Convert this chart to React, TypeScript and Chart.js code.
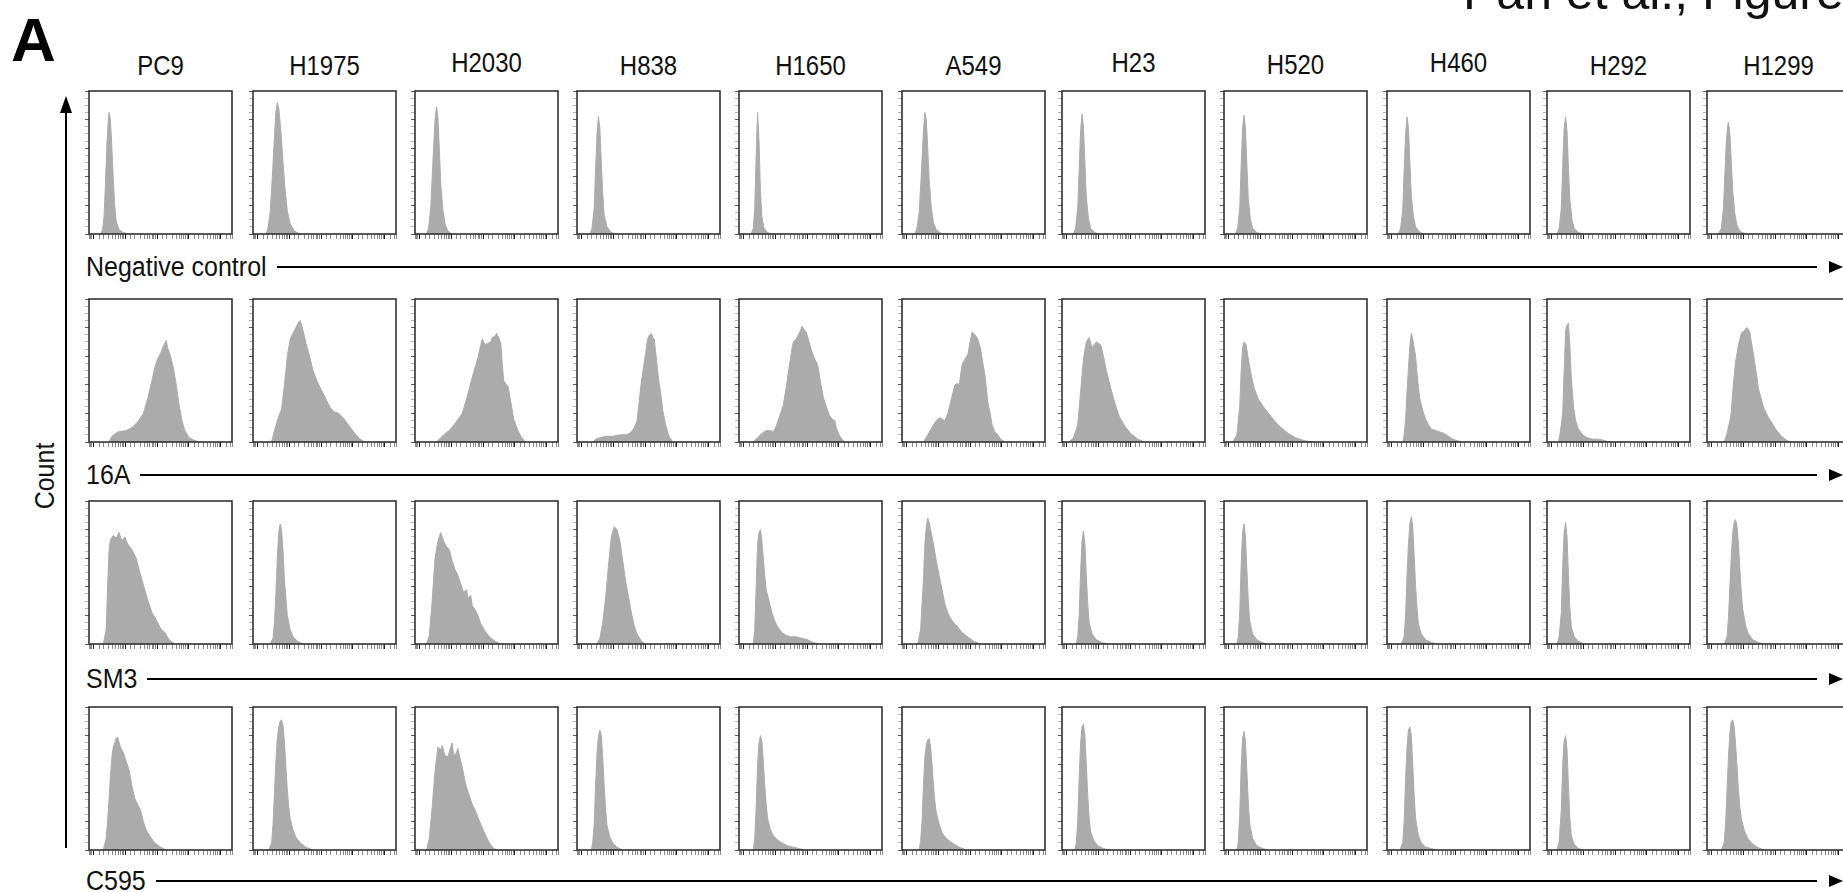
import React, { useEffect, useRef } from "react";
import { Chart, registerables } from "chart.js";

Chart.register(...registerables);

type Pt = [number, number];

const cellLines = ["PC9", "H1975", "H2030", "H838", "H1650", "A549", "H23", "H520", "H460", "H292", "H1299"];
const antibodies = ["Negative control", "16A", "SM3", "C595"];

// x: position along the fluorescence axis (0-100), y: normalized count (0-100 of panel height)
const negativeControl: Pt[][] = [
  [[8,0],[9.5,3],[10.5,12],[11.5,35],[12.5,62],[13.5,80],[14,85],[15,80],[16,60],[17,38],[18,20],[19,9],[21,3],[24,1],[28,0]],
  [[9,0],[10.5,4],[12,15],[13.5,40],[15,68],[16,85],[17,92],[18,88],[19.5,72],[21,50],[22.5,30],[24,16],[26,7],[29,2],[33,0]],
  [[8,0],[9.5,4],[11,18],[12.5,50],[14,80],[15,89],[16,82],[17,60],[18,35],[19.5,17],[21,7],[23,2],[26,0]],
  [[9,0],[10.5,4],[12,18],[13,45],[14,70],[15,82],[16,74],[17,50],[18,28],[19,13],[21,5],[24,1],[27,0]],
  [[8.5,0],[10,4],[11,18],[12,55],[13,85],[14,65],[15,30],[16,12],[17.5,4],[20,1],[23,0]],
  [[9,0],[10.5,4],[12,15],[13.5,42],[15,72],[16,85],[17,80],[18,60],[19,38],[20.5,18],[22,8],[24,3],[28,0]],
  [[8,0],[9.5,4],[11,18],[12,45],[13,72],[14,84],[15,75],[16,50],[17,26],[18.5,11],[20,4],[23,1],[26,0]],
  [[8,0],[9.5,4],[11,18],[12,48],[13,74],[14,83],[15,74],[16,48],[17,25],[18.5,10],[20,4],[23,1],[26,0]],
  [[8,0],[9.5,4],[11,17],[12,45],[13,70],[14,82],[15,74],[16,50],[17,27],[18.5,12],[20,5],[23,1],[26,0]],
  [[7,0],[8.5,4],[10,18],[11,48],[12,74],[13,82],[14,72],[15,46],[16,24],[17.5,10],[19,4],[22,1],[25,0]],
  [[8,0],[10,4],[11.5,18],[12.5,42],[13.5,64],[14.5,76],[15,78],[16,70],[17,50],[18,30],[19.5,14],[21,6],[23,2],[27,0]],
];

const ab16A: Pt[][] = [
  [[14,0],[16,4],[20,7],[26,8],[30,10],[34,14],[38,20],[41,30],[44,43],[46,52],[48,58],[50,62],[52,67],[54,71],[55,66],[57,60],[59,52],[61,40],[63,26],[65,15],[67,8],[70,3],[74,1],[78,0]],
  [[13,0],[15,8],[18,18],[20,23],[22,40],[24,60],[26,72],[28,76],[30,80],[32,84],[33,85],[35,78],[37,69],[39,62],[42,50],[45,42],[48,36],[51,30],[54,24],[57,21],[60,20],[63,17],[66,13],[69,9],[72,5],[75,2],[78,0]],
  [[15,0],[18,3],[21,6],[24,8],[28,13],[33,20],[36,30],[40,45],[42,52],[44,59],[46,68],[47,72],[49,68],[51,69],[53,70],[54,73],[56,74],[57,76],[59,72],[60,69],[61,55],[62,43],[64,40],[65,39],[67,28],[69,16],[72,8],[74,4],[77,0]],
  [[11,0],[13,2],[16,3],[20,4],[25,4],[30,5],[35,5],[38,7],[40,10],[42,15],[43,24],[44,33],[45,42],[46,49],[48,62],[49,70],[50,74],[52,76],[53,73],[54,72],[55,63],[56,54],[57,44],[59,31],[60,22],[62,12],[64,5],[65,3],[67,0]],
  [[10,0],[13,3],[16,6],[19,8],[22,8],[24,7],[26,11],[28,17],[31,26],[33,38],[35,52],[37,65],[38,70],[40,72],[41,74],[43,78],[44,81],[46,78],[47,77],[49,70],[51,63],[53,58],[55,54],[57,42],[59,31],[61,25],[63,19],[65,16],[67,15],[68,10],[70,5],[72,2],[74,0]],
  [[15,0],[18,5],[22,12],[24,15],[26,17],[28,16],[30,15],[32,20],[33,24],[35,32],[37,40],[39,41],[40,40],[42,54],[44,58],[46,61],[48,72],[49,77],[51,75],[53,72],[55,65],[56,58],[58,47],[60,28],[62,18],[63,12],[65,7],[67,5],[69,2],[72,0]],
  [[5,0],[8,3],[11,12],[13,35],[15,58],[17,70],[19,73],[21,66],[24,70],[27,68],[29,60],[31,50],[34,38],[37,27],[40,18],[44,11],[48,6],[53,2],[58,0]],
  [[6,0],[9,5],[11,25],[12,50],[13,66],[14,70],[15.5,68],[17,58],[19,47],[21,38],[24,30],[28,24],[32,19],[36,14],[40,10],[45,6],[50,3],[56,1],[62,0]],
  [[11,0],[12,5],[13,16],[14,35],[15,52],[16,67],[17,76],[18,72],[19,66],[20,60],[21,48],[22,38],[23,30],[25,22],[27,16],[29,12],[31,9],[34,8],[37,7],[40,6],[43,4],[46,2],[49,1],[52,0]],
  [[8,0],[9,5],[10,12],[11,21],[12,50],[13,78],[14,82],[15,83],[16,67],[17,45],[18.5,25],[20,15],[22,9],[25,5],[28,3],[32,2],[36,2],[40,1],[44,0]],
  [[12,0],[14,6],[16,15],[17,21],[18,35],[19,46],[20,56],[22,68],[24,76],[26,78],[28,80],[30,77],[31,70],[33,58],[35,45],[36,37],[38,30],[40,23],[43,17],[45,14],[48,9],[52,4],[56,1],[59,0]],
];

const abSM3: Pt[][] = [
  [[10,0],[12,10],[13,40],[14,65],[15,73],[17,76],[19,74],[21,78],[23,72],[25,75],[27,70],[30,66],[33,60],[35,52],[37,45],[39,38],[41,31],[44,22],[47,17],[50,11],[53,8],[56,3],[60,0]],
  [[12,0],[14,4],[15,15],[16,35],[17,60],[18,78],[19,84],[20,80],[21,65],[22,45],[23,32],[24,20],[26,10],[28,5],[31,2],[35,0]],
  [[8,0],[10,6],[12,30],[14,60],[16,72],[18,78],[20,72],[22,68],[24,66],[26,58],[28,52],[30,48],[32,42],[34,36],[36,38],[37,32],[39,34],[40,27],[42,24],[44,20],[46,14],[49,9],[52,5],[56,2],[60,0]],
  [[14,0],[16,4],[18,15],[20,32],[22,55],[24,75],[26,82],[28,80],[30,72],[32,58],[34,44],[36,33],[38,22],[40,13],[42,7],[45,2],[48,0]],
  [[10,0],[11,10],[12,40],[13,70],[14,78],[15,80],[16,72],[17,60],[18,48],[19,38],[21,30],[23,22],[25,16],[27,12],[30,8],[33,6],[36,5],[40,5],[44,4],[48,3],[52,1],[56,0]],
  [[11,0],[13,10],[15,45],[16,70],[17,82],[18,88],[19,85],[20,80],[22,70],[24,58],[26,48],[28,38],[30,28],[32,22],[34,18],[36,15],[39,12],[42,8],[46,5],[50,2],[55,0]],
  [[10,0],[11,5],[12,20],[13,50],[14,72],[15,79],[16,70],[17,48],[18,28],[19,15],[21,7],[24,3],[28,1],[32,0]],
  [[9,0],[10,5],[11,22],[12,55],[13,78],[14,84],[15,75],[16,52],[17,30],[18,16],[20,7],[23,3],[27,1],[30,0]],
  [[10,0],[12,5],[13,20],[14,48],[15,70],[16,84],[17,89],[18,82],[19,62],[20,40],[21,25],[22,14],[24,7],[27,3],[31,1],[35,0]],
  [[7,0],[8.5,5],[10,22],[11,55],[12,78],[13,85],[14,75],[15,48],[16,25],[17,12],[19,5],[22,2],[26,0]],
  [[12,0],[14,5],[15,18],[16,40],[17,62],[18,78],[19,85],[20,87],[21,82],[22,70],[23,52],[24,36],[25,24],[27,13],[29,7],[32,3],[36,1],[40,0]],
];

const abC595: Pt[][] = [
  [[10,0],[12,8],[13,20],[14,35],[15,52],[16,65],[17,72],[19,78],[20,79],[22,72],[24,68],[26,62],[28,56],[30,45],[32,36],[34,32],[36,28],[38,20],[40,14],[43,9],[46,5],[50,2],[54,0]],
  [[11,0],[13,5],[14,18],[15,40],[16,62],[17,78],[18,86],[19,90],[20,91],[21,87],[22,75],[23,58],[24,42],[25,30],[26,22],[28,14],[30,9],[33,5],[37,2],[42,0]],
  [[8,0],[10,8],[12,30],[14,55],[16,72],[18,70],[19,73],[21,66],[23,65],[25,72],[26,75],[27,66],[29,68],[30,71],[32,62],[33,58],[35,48],[36,44],[38,38],[40,32],[42,28],[44,23],[46,18],[49,11],[52,5],[55,1],[58,0]],
  [[10,0],[11,5],[12,18],[13,45],[14,68],[15,80],[16,84],[17,80],[18,65],[19,45],[20,28],[21,17],[23,9],[25,5],[28,2],[32,0]],
  [[10,0],[11,8],[12,30],[13,60],[14,75],[15,80],[16,76],[17,62],[18,45],[19,32],[20,22],[22,14],[24,10],[27,7],[30,5],[34,3],[38,2],[42,1],[46,0]],
  [[12,0],[13,6],[14,20],[15,45],[16,65],[17,74],[18,77],[19,78],[20,72],[21,60],[22,45],[23,34],[24,26],[26,18],[28,12],[31,8],[35,5],[40,2],[45,0]],
  [[9,0],[10,5],[11,20],[12,50],[13,75],[14,86],[15,88],[16,80],[17,60],[18,38],[19,22],[20,13],[22,7],[25,3],[29,1],[33,0]],
  [[9,0],[10,6],[11,25],[12,58],[13,78],[14,83],[15,76],[16,55],[17,33],[18,18],[20,8],[23,3],[27,1],[31,0]],
  [[9,0],[11,5],[12,20],[13,50],[14,72],[15,84],[16,86],[17,80],[18,60],[19,38],[20,22],[22,10],[24,5],[27,2],[31,1],[35,0]],
  [[7,0],[8.5,6],[10,28],[11,60],[12,76],[13,80],[14,70],[15,45],[16,22],[17,10],[19,4],[22,1],[25,0]],
  [[10,0],[12,5],[13,18],[14,42],[15,65],[16,82],[17,90],[18,91],[19,86],[20,74],[21,58],[22,42],[23,30],[24,22],[26,14],[28,9],[31,5],[35,2],[40,0]],
];

const rows: Pt[][][] = [negativeControl, ab16A, abSM3, abC595];

// ---- layout (page pixels) ----
const COL_LEFT = [89, 253, 415, 577, 739, 902, 1062, 1224, 1387, 1547, 1707];
const ROW_TOP = [91, 299, 501, 707];
const PANEL_W = 143;
const PANEL_H = 143;
const COL_LABEL_BASE = [75, 75, 72, 75, 75, 75, 72, 74, 72, 75, 75];
const ROW_LINE_Y = [267, 475, 679, 881];
const ROW_LABEL_X = 86;
const COL_FONT = 24;
const ROW_FONT = 25;
const STRETCH = 1.12;

const Y_TICK = 4;
const X_TICK = 5;
const PAD = 2;

const FILL = "#ababab";
const FRAME = "#333333";
const FONT = '"Liberation Sans", Arial, Helvetica, sans-serif';

const framePlugin = {
  id: "frame",
  afterDraw(chart: any) {
    const { ctx, chartArea: a } = chart;
    ctx.save();
    ctx.strokeStyle = FRAME;
    ctx.lineWidth = 1.6;
    ctx.strokeRect(a.left, a.top, a.right - a.left, a.bottom - a.top);
    ctx.restore();
  },
};

function Histogram({ pts, left, top }: { pts: Pt[]; left: number; top: number }) {
  const ref = useRef<HTMLCanvasElement>(null);
  const cw = PANEL_W + Y_TICK + PAD * 2;
  const ch = PANEL_H + X_TICK + PAD * 2;
  useEffect(() => {
    const chart = new Chart(ref.current as HTMLCanvasElement, {
      type: "line",
      data: {
        datasets: [
          {
            data: pts.map(([x, y]) => ({ x, y })),
            fill: "origin",
            backgroundColor: FILL,
            borderColor: FILL,
            borderWidth: 1,
            pointRadius: 0,
            tension: 0,
          },
        ],
      },
      options: {
        animation: false,
        responsive: false,
        events: [],
        layout: { padding: { left: PAD, right: PAD, top: PAD, bottom: PAD } },
        plugins: { legend: { display: false }, tooltip: { enabled: false } },
        scales: {
          x: { type: "linear", min: 0, max: 100, display: false },
          xt: {
            type: "logarithmic",
            axis: "x",
            position: "bottom",
            min: Math.pow(10, 0.86),
            max: Math.pow(10, 5.36),
            border: { display: false },
            grid: {
              drawOnChartArea: false,
              drawTicks: true,
              tickLength: X_TICK,
              tickWidth: 1,
              tickColor: (c: any) => (c.tick && c.tick.major ? "#222" : "#8a8a8a"),
            },
            ticks: { display: false, autoSkip: false },
          },
          y: {
            type: "linear",
            min: 0,
            max: 100,
            border: { display: false },
            grid: {
              drawOnChartArea: false,
              drawTicks: true,
              tickLength: Y_TICK,
              tickWidth: 1,
              tickColor: (c: any) => (c.tick && c.tick.value % 20 === 0 ? "#555" : "#b5b5b5"),
            },
            ticks: { display: false, stepSize: 5 },
          },
        },
      } as any,
      plugins: [framePlugin],
    });
    return () => chart.destroy();
  }, [pts]);
  return (
    <canvas
      ref={ref}
      width={cw}
      height={ch}
      style={{ position: "absolute", left: left - Y_TICK - PAD, top: top - PAD, width: cw, height: ch }}
    />
  );
}

export default function App() {
  return (
    <div
      style={{
        position: "fixed",
        left: 0,
        top: 0,
        width: 1843,
        height: 892,
        overflow: "hidden",
        background: "#ffffff",
      }}
    >
      <svg width={1843} height={892} style={{ position: "absolute", left: 0, top: 0 }}>
        <text x={1463} y={9} fontFamily={FONT} fontSize={50} fill="#111">
          Pan et al., Figure
        </text>
        <text x={11} y={61} fontFamily={FONT} fontSize={62} fontWeight="bold" fill="#000">
          A
        </text>
        {cellLines.map((name, i) => (
          <text
            key={name}
            x={0}
            y={0}
            transform={`translate(${COL_LEFT[i] + PANEL_W / 2},${COL_LABEL_BASE[i]}) scale(1,${STRETCH})`}
            textAnchor="middle"
            fontFamily={FONT}
            fontSize={COL_FONT}
            fill="#111"
          >
            {name}
          </text>
        ))}
        {/* vertical Count arrow */}
        <line x1={66} y1={848} x2={66} y2={110} stroke="#000" strokeWidth={2} />
        <polygon points="66,96 60,113 72,113" fill="#000" />
        <text
          x={0}
          y={0}
          transform={`translate(54,476) rotate(-90) scale(1,${STRETCH})`}
          textAnchor="middle"
          fontFamily={FONT}
          fontSize={ROW_FONT}
          fill="#111"
        >
          Count
        </text>
        {antibodies.map((ab, r) => (
          <text
            key={ab}
            x={0}
            y={0}
            transform={`translate(${ROW_LABEL_X},${ROW_LINE_Y[r] + 9}) scale(1,${STRETCH})`}
            fontFamily={FONT}
            fontSize={ROW_FONT}
            fill="#111"
          >
            {ab}
          </text>
        ))}
      </svg>
      {antibodies.map((ab, r) => (
        <div
          key={ab}
          style={{
            position: "absolute",
            left: ROW_LABEL_X,
            top: ROW_LINE_Y[r] - 1,
            right: 0,
            height: 2,
            display: "flex",
          }}
        >
          <span
            style={{
              visibility: "hidden",
              fontFamily: FONT,
              fontSize: ROW_FONT,
              lineHeight: "2px",
              whiteSpace: "pre",
            }}
          >
            {ab}
          </span>
          <div style={{ flex: 1, marginLeft: 10, height: 2, background: "#000", marginRight: 12 }} />
          <div
            style={{
              width: 0,
              height: 0,
              marginTop: -5,
              borderTop: "6px solid transparent",
              borderBottom: "6px solid transparent",
              borderLeft: "14px solid #000",
            }}
          />
        </div>
      ))}
      {rows.map((row, r) =>
        row.map((pts, c) => (
          <Histogram key={`${r}-${c}`} pts={pts} left={COL_LEFT[c]} top={ROW_TOP[r]} />
        ))
      )}
    </div>
  );
}
